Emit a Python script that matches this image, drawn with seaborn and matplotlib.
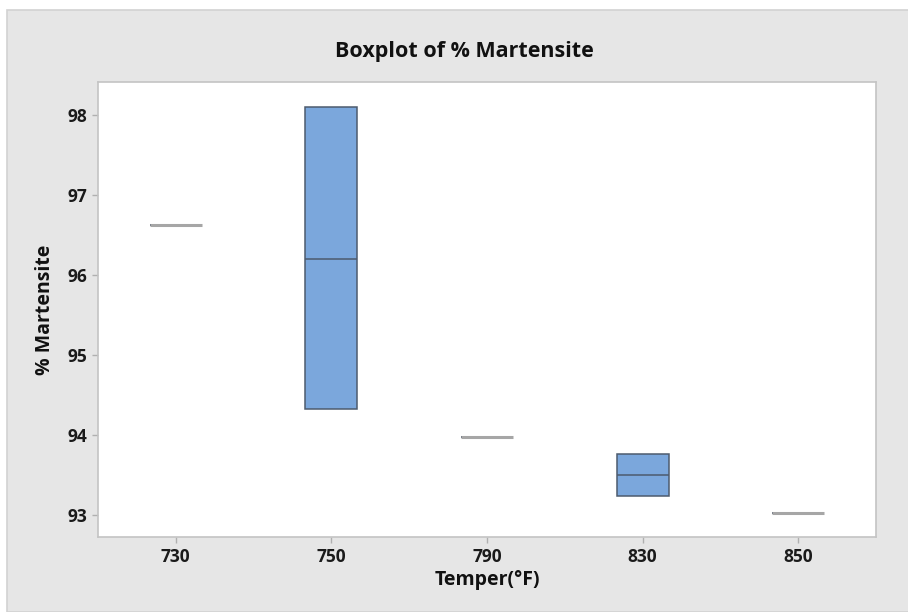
import matplotlib
matplotlib.use("Agg")
import matplotlib.pyplot as plt
from matplotlib.patches import Rectangle
import pandas as pd
import seaborn as sns

# Summary values per temper group (Q1, median, Q3)
tempers = ["730", "750", "790", "830", "850"]
q1 = [96.62, 94.33, 93.97, 93.24, 93.03]
median = [96.62, 96.20, 93.97, 93.50, 93.03]
q3 = [96.62, 98.10, 93.97, 93.76, 93.03]
y_ticks = [93, 94, 95, 96, 97, 98]

# Long-form table whose quartiles reproduce the summary values exactly
rows = []
for t, a, m, b in zip(tempers, q1, median, q3):
    for v in (a, a, m, b, b):
        rows.append({"Temper(°F)": t, "% Martensite": v})
df = pd.DataFrame(rows)

sns.set_theme(style="white")
plt.rcParams["font.family"] = ["Open Sans", "DejaVu Sans"]

BG = "#e6e6e6"
fig = plt.figure(figsize=(9.08, 6.12), dpi=100, facecolor="white")
# grey chart panel with a faint outline
fig.patches.append(Rectangle((7 / 908, 0), 1, 1 - 10 / 612, transform=fig.transFigure,
                             facecolor=BG, edgecolor="#d2d2d2", linewidth=1.2, zorder=-5))

ax = fig.add_axes([98 / 908, 1 - 537 / 612, (876 - 98) / 908, (537 - 82) / 612])
ax.set_zorder(1)
ax.set_facecolor("white")

BOX_W = 0.335
sns.boxplot(data=df, x="Temper(°F)", y="% Martensite", order=tempers, ax=ax,
            width=BOX_W, color="#7ba7dc", saturation=1, linecolor="#4d5b6e",
            linewidth=1.1, showcaps=False, showfliers=False, whis=0)

# single-observation groups collapse to a grey line
for i, (a, b) in enumerate(zip(q1, q3)):
    if a == b:
        ax.plot([i - BOX_W / 2, i + BOX_W / 2], [a, a], color="#a6a6a6", linewidth=2.2,
                solid_capstyle="butt", zorder=5)

ax.set_xlim(-0.5, 4.5)
ax.set_ylim(92.725, 98.41)
ax.set_yticks(y_ticks)
ax.set_yticklabels([str(v) for v in y_ticks])

for s in ax.spines.values():
    s.set_color("#c4c4c4")
    s.set_linewidth(1.2)

ax.tick_params(axis="both", which="both", length=4, width=1, color="#b0b0b0",
               labelsize=12.5, labelcolor="#1a1a1a", pad=4,
               bottom=True, left=True)
for lab in ax.get_xticklabels() + ax.get_yticklabels():
    lab.set_fontweight("bold")

ax.set_xlabel("Temper(°F)", fontsize=14, fontweight="bold", color="#111111", labelpad=3)
ax.set_ylabel("% Martensite", fontsize=14, fontweight="bold", color="#111111", labelpad=9)

fig.text(464 / 908, 1 - 52 / 612, "Boxplot of % Martensite", ha="center", va="center",
         fontsize=15.5, fontweight="bold", color="#111111")

fig.savefig("out.png", dpi=100, facecolor="white")
